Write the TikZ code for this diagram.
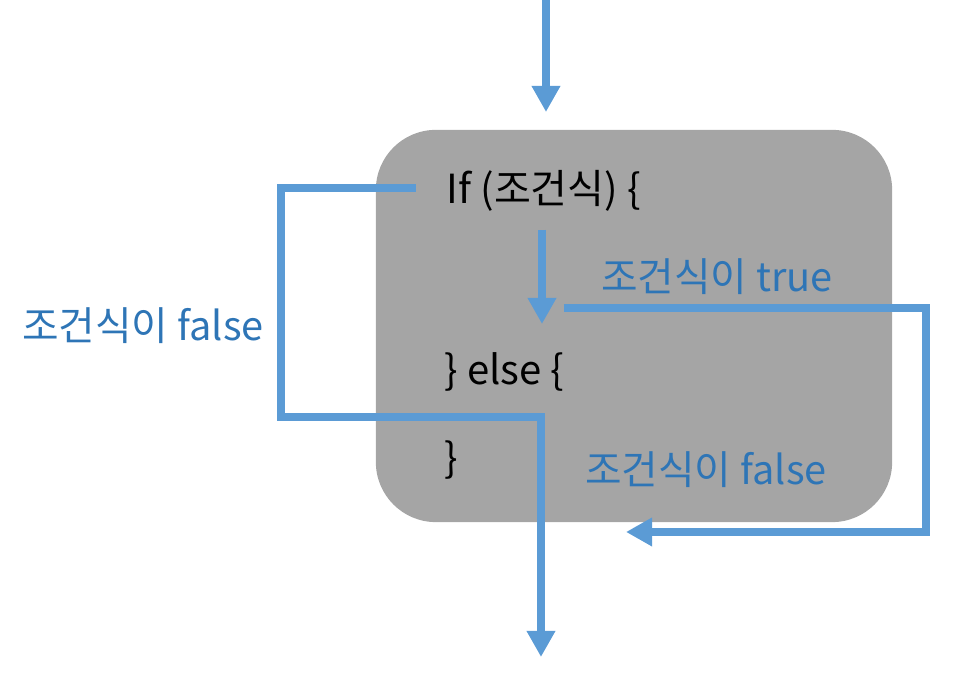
\documentclass[tikz,border=0pt]{standalone}
\usepackage{fontspec}
\setmainfont{Noto Sans CJK KR}
\usetikzlibrary{arrows.meta,positioning}
\definecolor{flowblue}{RGB}{91,155,213}
\definecolor{labelblue}{RGB}{46,117,182}
\definecolor{blockgray}{RGB}{165,165,165}

\begin{document}
\begin{tikzpicture}[
    x=0.01cm, y=-0.01cm,
    block/.style={fill=blockgray, rounded corners=6mm, minimum width=5.16cm, minimum height=3.92cm, inner sep=0pt},
    code/.style={font=\fontsize{11.4}{13}\selectfont, anchor=west, inner sep=0pt},
    lbl/.style={font=\fontsize{11.3}{13}\selectfont, text=labelblue, inner sep=0pt},
    arr/.style={-{Triangle[length=2.6mm, width=2.7mm]}, line width=0.8mm, flowblue}
]
\useasboundingbox (0,0) rectangle (959,686);
\node[block] (blk) at (634,326) {};

\node[code] (cif) at (446,191) {If (조건식) \{};
\node[code] (celse) at (444,372) {\} else \{};
\node[code] (cend) at (444,460) {\}};

\node[lbl] (ltrue) at (717,277) {조건식이 true};
\node[lbl] (lfalsel) at (143,326) {조건식이 false};
\node[lbl] (lfalseb) at (706,470) {조건식이 false};

\coordinate (in) at (546,0);
\coordinate (intip) at (546,112);
\coordinate (fstart) at (416,188);
\coordinate (fcorner) at (281,417);
\coordinate (out) at (541,657);
\coordinate (tdown) at (542,230);
\coordinate (tdowntip) at (542,324);
\coordinate (tstart) at (564,308);
\coordinate (tcorner) at (926,532);
\coordinate (tend) at (626,532);

\draw[arr] (in) -- (intip);
\draw[arr] (tdown) -- (tdowntip);
\draw[arr] (fstart) -| (fcorner) -| (out);
\draw[arr] (tstart) -| (tcorner) -- (tend);
\end{tikzpicture}
\end{document}
